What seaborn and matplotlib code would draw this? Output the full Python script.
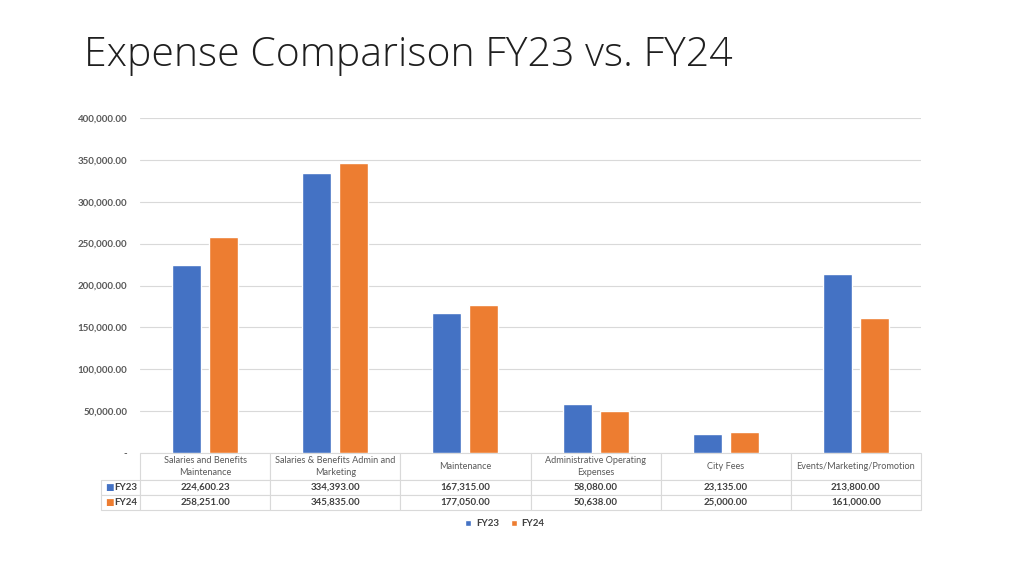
import pandas as pd
import numpy as np
import matplotlib
matplotlib.use("Agg")
import matplotlib.pyplot as plt
import seaborn as sns
from matplotlib.ticker import FuncFormatter

categories = ["Salaries and Benefits\nMaintenance", "Salaries & Benefits Admin and\nMarketing",
              "Maintenance", "Administrative Operating\nExpenses", "City Fees",
              "Events/Marketing/Promotion"]
fy23 = [224600.23, 334393.00, 167315.00, 58080.00, 23135.00, 213800.00]
fy24 = [258251.00, 345835.00, 177050.00, 50638.00, 25000.00, 161000.00]
series = ["FY23", "FY24"]
colors = ["#4472C4", "#ED7D31"]
yticks = [0, 50000, 100000, 150000, 200000, 250000, 300000, 350000, 400000]

df = pd.DataFrame({"category": categories * 2,
                   "year": ["FY23"] * 6 + ["FY24"] * 6,
                   "value": fy23 + fy24})

sns.set_theme(style="white")
plt.rcParams["font.family"] = ["Lato", "DejaVu Sans"]

fig = plt.figure(figsize=(10.24, 5.76), dpi=100)
ax = fig.add_axes([140 / 1024, 1 - 453 / 576, 781 / 1024, 335 / 576])

sns.barplot(data=df, x="category", y="value", hue="year", order=categories,
            hue_order=series, palette=colors, width=0.57, gap=0.22,
            saturation=1, ax=ax, legend=True)

ax.set_ylim(0, 400000)
ax.set_yticks(yticks)
ax.yaxis.set_major_formatter(FuncFormatter(lambda v, p: "-" if v == 0 else f"{v:,.2f}"))
ax.tick_params(axis="y", labelsize=7, colors="#595959", length=0, pad=9)
for lbl in ax.get_yticklabels():
    lbl.set_fontweight("bold")
ax.set_xticks([])
ax.set_xlabel("")
ax.set_ylabel("")
ax.grid(axis="y", color="#d9d9d9", linewidth=0.8)
ax.set_axisbelow(True)
for s in ax.spines.values():
    s.set_visible(False)
ax.set_xlim(-0.5, len(categories) - 0.5)

# data table under the plot
cell_text = [[series[0]] + [f"{v:,.2f}" for v in fy23],
             [series[1]] + [f"{v:,.2f}" for v in fy24]]
tbl = ax.table(cellText=cell_text, colLabels=[""] + categories, cellLoc="center",
               bbox=[-39 / 781, -57 / 335, 1 + 39 / 781, 57 / 335])
tbl.auto_set_font_size(False)
tbl.set_fontsize(7)
for (r, c), cell in tbl.get_celld().items():
    cell.set_edgecolor("#d9d9d9")
    cell.set_linewidth(0.8)
    cell.get_text().set_color("#404040")
    cell.get_text().set_fontweight("bold")
    cell.set_height(27 if r == 0 else 15)
    cell.set_width(39 if c == 0 else 130)
    if r == 0:
        cell.get_text().set_linespacing(1.4)
        cell.get_text().set_color("#595959")
        cell.get_text().set_fontweight("normal")
        cell.get_text().set_fontsize(6.6)
    if c == 0:
        cell._loc = "left"
        cell.get_text().set_ha("left")
        cell.PAD = 0.33
    if r == 0 and c == 0:
        cell.visible_edges = ""
        cell.set_facecolor("none")

# colored keys in the row label cells
for i, col in enumerate(colors):
    ax.text(-35 / 781, (-27 - 7.5 - 15 * i) / 335, "■", color=col, fontsize=6.5,
            ha="left", va="center", transform=ax.transAxes, family="DejaVu Sans")

leg = ax.get_legend()
handles, labels = ax.get_legend_handles_labels()
leg.remove()
fig.legend(handles, labels, loc="center", bbox_to_anchor=(505 / 1024, 1 - 524 / 576),
           ncol=2, frameon=False, handlelength=0.6, handleheight=0.6,
           handletextpad=0.5, columnspacing=1.2, labelcolor="#404040",
           prop={"weight": "bold", "size": 7})

fig.text(84 / 1024, 1 - 55 / 576, "Expense Comparison FY23 vs. FY24", fontsize=29.5,
         color="#1f1f1f", ha="left", va="center", family="Open Sans", fontweight="light")

fig.savefig("out.png", dpi=100)
